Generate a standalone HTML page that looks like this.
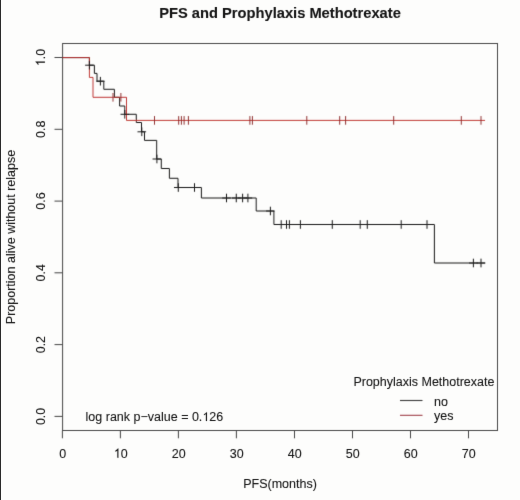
<!DOCTYPE html>
<html><head><meta charset="utf-8"><style>
html,body{margin:0;padding:0;background:#fdfdfc;}
body{width:520px;height:500px;overflow:hidden;position:relative;}
.edge{position:absolute;left:0;top:0;width:1px;height:500px;background:#2a2a2a;}
svg{position:absolute;left:0;top:0;will-change:transform;}
text{font-family:"Liberation Sans",sans-serif;font-size:12.5px;fill:#141414;stroke:#141414;stroke-width:0.08px;}
.g1{fill:#141414;stroke:#141414;stroke-width:13px;}
</style></head><body>
<svg width="520" height="500" viewBox="0 0 520 500">
<defs><filter id="bl" x="-5%" y="-5%" width="110%" height="110%"><feConvolveMatrix order="3" kernelMatrix="1 8 1 8 64 8 1 8 1" preserveAlpha="false" edgeMode="none"/></filter>
<filter id="tb" x="-5%" y="-5%" width="110%" height="110%"><feConvolveMatrix order="3" kernelMatrix="0 3 0 3 40 3 0 3 0" preserveAlpha="false" edgeMode="none"/></filter></defs>
<g filter="url(#bl)">
<rect x="62.6" y="43.5" width="434.9" height="387" fill="none" stroke="#454545" stroke-width="1.0"/>
<path d="M62.4 430.5V438.3M120.4 430.5V438.3M178.4 430.5V438.3M236.4 430.5V438.3M294.5 430.5V438.3M352.5 430.5V438.3M410.5 430.5V438.3M468.5 430.5V438.3" stroke="#454545" stroke-width="1.0" fill="none"/>
<path d="M54.5 416.4H62.5M54.5 344.6H62.5M54.5 272.8H62.5M54.5 201.1H62.5M54.5 129.3H62.5M54.5 57.5H62.5" stroke="#454545" stroke-width="1.0" fill="none"/>
<polyline points="62.4,57.6 89.4,57.6 89.4,65.2 94.4,65.2 94.4,73.4 97.0,73.4 97.0,81.2 103.8,81.2 103.8,89.3 114.4,89.3 114.4,97.3 119.6,97.3 119.6,106.0 124.8,106.0 124.8,114.3 136.3,114.3 136.3,122.5 141.5,122.5 141.5,131.8 144.5,131.8 144.5,140.4 156.7,140.4 156.7,159.0 161.3,159.0 161.3,168.5 169.4,168.5 169.4,178.3 178.0,178.3 178.0,187.5 201.4,187.5 201.4,198.0 256.2,198.0 256.2,211.0 273.9,211.0 273.9,224.5 434.4,224.5 434.4,263.0 485.0,263.0" fill="none" stroke="#1c1c1c" stroke-width="1.0"/>
<polyline points="62.4,57.6 89.4,57.6 89.4,77.4 93.0,77.4 93.0,97.3 126.5,97.3 126.5,120.4 485.0,120.4" fill="none" stroke="#bc2e2c" stroke-width="0.95"/>
<path d="M85.1 65.2H93.7M89.4 60.9V69.5M96.1 81.2H104.7M100.4 76.9V85.5M120.5 114.3H129.1M124.8 110.0V118.6M137.5 131.8H146.1M141.8 127.5V136.1M152.6 159.0H161.2M156.9 154.7V163.3M174.0 187.5H182.6M178.3 183.2V191.8M190.2 187.5H198.8M194.5 183.2V191.8M222.2 198.0H230.8M226.5 193.7V202.3M232.0 198.0H240.6M236.3 193.7V202.3M238.3 198.0H246.9M242.6 193.7V202.3M243.6 198.0H252.2M247.9 193.7V202.3M266.1 211.0H274.7M270.4 206.7V215.3M276.9 224.5H285.5M281.2 220.2V228.8M282.2 224.5H290.8M286.5 220.2V228.8M285.1 224.5H293.7M289.4 220.2V228.8M296.1 224.5H304.7M300.4 220.2V228.8M328.0 224.5H336.6M332.3 220.2V228.8M355.9 224.5H364.5M360.2 220.2V228.8M363.0 224.5H371.6M367.3 220.2V228.8M396.9 224.5H405.5M401.2 220.2V228.8M422.7 224.5H431.3M427.0 220.2V228.8M469.1 263.0H477.7M473.4 258.7V267.3M476.7 263.0H485.3M481.0 258.7V267.3" fill="none" stroke="#1c1c1c" stroke-width="1.0"/>
<path d="M113.0 93.0V101.6M120.9 93.0V101.6M154.5 116.1V124.7M178.7 116.1V124.7M181.4 116.1V124.7M184.1 116.1V124.7M188.4 116.1V124.7M249.9 116.1V124.7M252.4 116.1V124.7M306.8 116.1V124.7M339.7 116.1V124.7M345.6 116.1V124.7M393.7 116.1V124.7M461.3 116.1V124.7M481.0 116.1V124.7" fill="none" stroke="#8c2a2a" stroke-width="0.95"/>
<path d="M400 400.5H422.5" stroke="#3a3a3a" stroke-width="1.1"/>
<path d="M400 415.3H422.5" stroke="#983038" stroke-width="1"/>
</g>
<g filter="url(#tb)">
<g transform="translate(62.70 457.8) scale(1 1.045)"><text x="0" y="0" text-anchor="middle">0</text></g>
<g transform="translate(120.71 457.8) scale(1 1.045)"><path class="g1" d="M763 0H583V1147Q518 1085 422 1029Q327 973 262 949V1123Q413 1194 519 1289Q626 1384 673 1466H763Z" transform="translate(-6.95 0.00) scale(0.006104 -0.006104)"/><text x="0" y="0">0</text></g>
<g transform="translate(178.73 457.8) scale(1 1.045)"><text x="0" y="0" text-anchor="middle">20</text></g>
<g transform="translate(236.74 457.8) scale(1 1.045)"><text x="0" y="0" text-anchor="middle">30</text></g>
<g transform="translate(294.76 457.8) scale(1 1.045)"><text x="0" y="0" text-anchor="middle">40</text></g>
<g transform="translate(352.77 457.8) scale(1 1.045)"><text x="0" y="0" text-anchor="middle">50</text></g>
<g transform="translate(410.78 457.8) scale(1 1.045)"><text x="0" y="0" text-anchor="middle">60</text></g>
<g transform="translate(468.80 457.8) scale(1 1.045)"><text x="0" y="0" text-anchor="middle">70</text></g>
<g transform="translate(44.9 416.40) rotate(-90) scale(1 1.045)"><text x="0" y="0" text-anchor="middle">0.0</text></g>
<g transform="translate(44.9 344.62) rotate(-90) scale(1 1.045)"><text x="0" y="0" text-anchor="middle">0.2</text></g>
<g transform="translate(44.9 272.84) rotate(-90) scale(1 1.045)"><text x="0" y="0" text-anchor="middle">0.4</text></g>
<g transform="translate(44.9 201.06) rotate(-90) scale(1 1.045)"><text x="0" y="0" text-anchor="middle">0.6</text></g>
<g transform="translate(44.9 129.28) rotate(-90) scale(1 1.045)"><text x="0" y="0" text-anchor="middle">0.8</text></g>
<g transform="translate(44.9 57.50) rotate(-90) scale(1 1.045)"><path class="g1" d="M763 0H583V1147Q518 1085 422 1029Q327 973 262 949V1123Q413 1194 519 1289Q626 1384 673 1466H763Z" transform="translate(-8.69 0.00) scale(0.006104 -0.006104)"/><text x="-1.74" y="0">.0</text></g>
<text x="280" y="18" text-anchor="middle" style="font-weight:bold;font-size:14.7px;fill:#151515;stroke:#151515;stroke-width:0.1px">PFS and Prophylaxis Methotrexate</text>
<text x="280" y="487.9" text-anchor="middle">PFS(months)</text>
<text x="14.9" y="237" text-anchor="middle" transform="rotate(-90 14.9 237)">Proportion alive without relapse</text>
<text x="85.6" y="421.1">log rank p−value = 0.</text><path class="g1" d="M763 0H583V1147Q518 1085 422 1029Q327 973 262 949V1123Q413 1194 519 1289Q626 1384 673 1466H763Z" transform="translate(202.35 421.10) scale(0.006104 -0.006104)"/><text x="209.30" y="421.1">26</text>
<text x="353.4" y="386.2">Prophylaxis Methotrexate</text>
<text x="434" y="406">no</text>
<text x="434" y="420.4">yes</text>
</g>
</svg>
<div class="edge"></div>
</body></html>
